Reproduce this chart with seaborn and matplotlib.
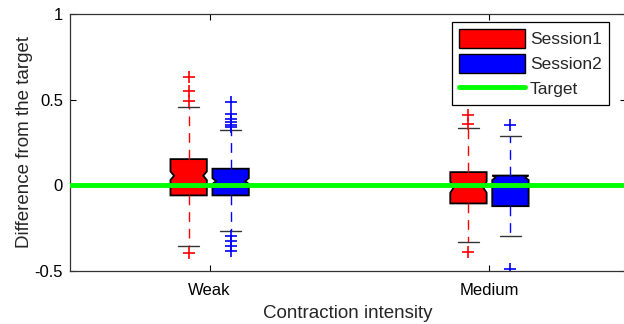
import matplotlib
matplotlib.use("Agg")
import matplotlib.pyplot as plt
from matplotlib.patches import Patch
from matplotlib.lines import Line2D
import seaborn as sns

# values
categories = ["Weak", "Medium"]
sessions = ["Session1", "Session2"]
session_colors = ["#ff0000", "#0000ff"]

s1_q1 = [-0.060, -0.107]
s1_med = [0.055, -0.012]
s1_q3 = [0.152, 0.076]
s1_cilo = [0.030, -0.045]
s1_cihi = [0.080, 0.020]
s1_whislo = [-0.354, -0.334]
s1_whishi = [0.456, 0.336]
s1_fliers = [[0.632, 0.548, 0.490, -0.397], [0.407, 0.359, -0.393]]

s2_q1 = [-0.060, -0.123]
s2_med = [0.023, 0.045]
s2_q3 = [0.096, 0.056]
s2_cilo = [0.007, 0.030]
s2_cihi = [0.041, 0.056]
s2_whislo = [-0.266, -0.295]
s2_whishi = [0.320, 0.287]
s2_fliers = [[0.486, 0.418, 0.388, 0.369, 0.352, 0.340,
              -0.295, -0.325, -0.354, -0.387],
             [0.350, -0.490]]

yticks = [-0.5, 0, 0.5, 1]
ytick_labels = ["-0.5", "0", "0.5", "1"]
target = 0.0

sns.set_style("ticks")
plt.rcParams["font.family"] = ["Liberation Sans", "DejaVu Sans"]


def make_stats(q1, med, q3, cilo, cihi, wlo, whi, fl):
    return [dict(q1=a, med=b, q3=c, cilo=d, cihi=e, whislo=f, whishi=g, fliers=h)
            for a, b, c, d, e, f, g, h in zip(q1, med, q3, cilo, cihi, wlo, whi, fl)]


stats = [
    make_stats(s1_q1, s1_med, s1_q3, s1_cilo, s1_cihi, s1_whislo, s1_whishi, s1_fliers),
    make_stats(s2_q1, s2_med, s2_q3, s2_cilo, s2_cihi, s2_whislo, s2_whishi, s2_fliers),
]

fig = plt.figure(figsize=(6.24, 3.24), dpi=100)
ax = fig.add_axes([0.1122, 0.1645, 0.891, 0.7923])

offset = 0.075
box_w = 0.130
for k, (st, col) in enumerate(zip(stats, session_colors)):
    pos = [i + (k - 0.5) * 2 * offset for i in range(len(categories))]
    bp = ax.bxp(st, positions=pos, widths=box_w, shownotches=True,
                patch_artist=True, manage_ticks=False, capwidths=0.075,
                boxprops=dict(facecolor=col, edgecolor="black", linewidth=1.3),
                whiskerprops=dict(color=col, linestyle=(0, (7, 5)), linewidth=1),
                capprops=dict(color="#333333", linewidth=1),
                medianprops=dict(linewidth=0),
                flierprops=dict(marker="+", markeredgecolor=col, markersize=9,
                                markeredgewidth=1.2, linestyle="none"))
    # shallower notch like the original
    for box, p in zip(bp["boxes"], pos):
        verts = box.get_path().vertices
        verts[3, 0] = p + box_w * 0.40
        verts[8, 0] = p - box_w * 0.40

ax.axhline(target, color="#00ff00", linewidth=3.5, zorder=5)

ax.set_xlim(-0.499, 1.488)
ax.set_ylim(-0.5, 1)
ax.set_xticks(range(len(categories)))
ax.set_xticklabels(categories, fontsize=12)
ax.set_yticks(yticks)
ax.set_yticklabels(ytick_labels, fontsize=12)
ax.tick_params(direction="in", length=4, width=0.8, top=True, right=True, colors="black")
ax.tick_params(axis="x", pad=9)
ax.tick_params(axis="y", pad=5)
for s in ax.spines.values():
    s.set_color("#333333")
    s.set_linewidth(0.9)

ax.set_xlabel("Contraction intensity", fontsize=13.5, labelpad=5)
ax.set_ylabel("Difference from the target", fontsize=13.5, labelpad=1)

handles = [Patch(facecolor=session_colors[0], edgecolor="black"),
           Patch(facecolor=session_colors[1], edgecolor="black"),
           Line2D([], [], color="#00ff00", linewidth=3.5)]
leg = ax.legend(handles, sessions + ["Target"], loc="upper right",
                bbox_to_anchor=(0.969, 0.969), borderaxespad=0, fontsize=12.5,
                fancybox=False, edgecolor="black", framealpha=1,
                handlelength=3.8, handleheight=1.3, handletextpad=0.3,
                labelspacing=0.35, borderpad=0.4)
leg.get_frame().set_linewidth(0.9)

fig.savefig("out.png", dpi=100)
